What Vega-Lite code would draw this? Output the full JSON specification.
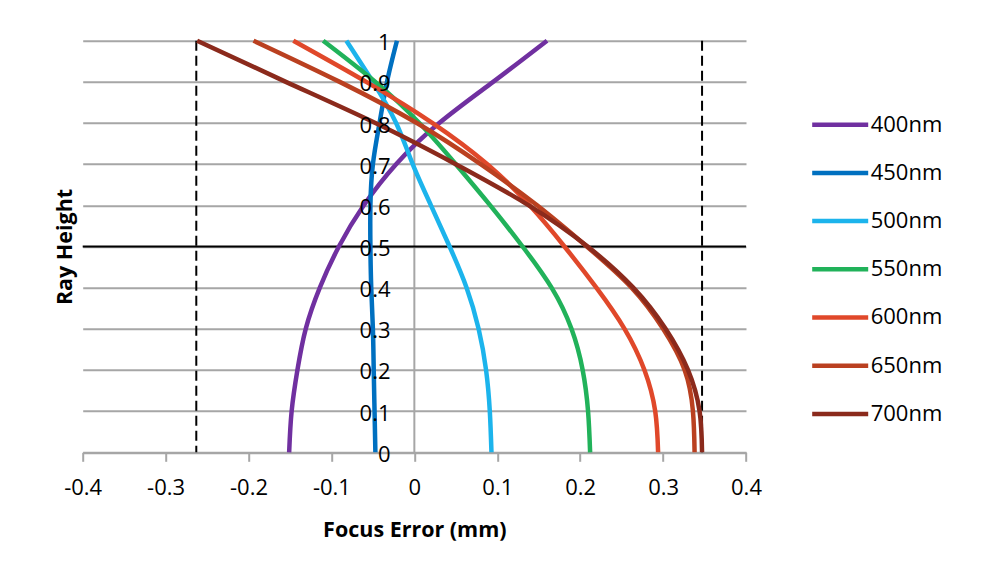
{
  "$schema": "https://vega.github.io/schema/vega-lite/v6.json",
  "width": 663.3,
  "height": 411.6,
  "autosize": {"type": "none"},
  "padding": {"left": 82.7, "top": 40.7, "right": 239, "bottom": 125},
  "background": "white",
  "config": {"view": {"stroke": null}, "font": "Open Sans"},
  "datasets": {
    "curves": [
      {"wl": "400nm", "y": 0, "x": -0.151}, {"wl": "400nm", "y": 0.1, "x": -0.148}, {"wl": "400nm", "y": 0.2, "x": -0.141}, {"wl": "400nm", "y": 0.3, "x": -0.131}, {"wl": "400nm", "y": 0.4, "x": -0.114}, {"wl": "400nm", "y": 0.5, "x": -0.091}, {"wl": "400nm", "y": 0.6, "x": -0.061}, {"wl": "400nm", "y": 0.7, "x": -0.022}, {"wl": "400nm", "y": 0.8, "x": 0.030}, {"wl": "400nm", "y": 0.9, "x": 0.095}, {"wl": "400nm", "y": 1.0, "x": 0.160},
      {"wl": "450nm", "y": 0, "x": -0.047}, {"wl": "450nm", "y": 0.1, "x": -0.048}, {"wl": "450nm", "y": 0.2, "x": -0.049}, {"wl": "450nm", "y": 0.3, "x": -0.050}, {"wl": "450nm", "y": 0.4, "x": -0.052}, {"wl": "450nm", "y": 0.5, "x": -0.053}, {"wl": "450nm", "y": 0.6, "x": -0.053}, {"wl": "450nm", "y": 0.7, "x": -0.050}, {"wl": "450nm", "y": 0.8, "x": -0.042}, {"wl": "450nm", "y": 0.9, "x": -0.033}, {"wl": "450nm", "y": 1.0, "x": -0.021},
      {"wl": "500nm", "y": 0, "x": 0.093}, {"wl": "500nm", "y": 0.1, "x": 0.091}, {"wl": "500nm", "y": 0.2, "x": 0.0865}, {"wl": "500nm", "y": 0.3, "x": 0.0775}, {"wl": "500nm", "y": 0.4, "x": 0.063}, {"wl": "500nm", "y": 0.5, "x": 0.0425}, {"wl": "500nm", "y": 0.6, "x": 0.020}, {"wl": "500nm", "y": 0.7, "x": -0.002}, {"wl": "500nm", "y": 0.8, "x": -0.022}, {"wl": "500nm", "y": 0.9, "x": -0.050}, {"wl": "500nm", "y": 1.0, "x": -0.082},
      {"wl": "550nm", "y": 0, "x": 0.212}, {"wl": "550nm", "y": 0.1, "x": 0.2095}, {"wl": "550nm", "y": 0.2, "x": 0.203}, {"wl": "550nm", "y": 0.3, "x": 0.1895}, {"wl": "550nm", "y": 0.4, "x": 0.1655}, {"wl": "550nm", "y": 0.5, "x": 0.1305}, {"wl": "550nm", "y": 0.6, "x": 0.0915}, {"wl": "550nm", "y": 0.7, "x": 0.050}, {"wl": "550nm", "y": 0.8, "x": 0.006}, {"wl": "550nm", "y": 0.9, "x": -0.047}, {"wl": "550nm", "y": 1.0, "x": -0.110},
      {"wl": "600nm", "y": 0, "x": 0.294}, {"wl": "600nm", "y": 0.1, "x": 0.2905}, {"wl": "600nm", "y": 0.2, "x": 0.2775}, {"wl": "600nm", "y": 0.3, "x": 0.2535}, {"wl": "600nm", "y": 0.4, "x": 0.2195}, {"wl": "600nm", "y": 0.5, "x": 0.181}, {"wl": "600nm", "y": 0.6, "x": 0.139}, {"wl": "600nm", "y": 0.7, "x": 0.088}, {"wl": "600nm", "y": 0.8, "x": 0.022}, {"wl": "600nm", "y": 0.9, "x": -0.058}, {"wl": "600nm", "y": 1.0, "x": -0.146},
      {"wl": "650nm", "y": 0, "x": 0.338}, {"wl": "650nm", "y": 0.1, "x": 0.336}, {"wl": "650nm", "y": 0.2, "x": 0.326}, {"wl": "650nm", "y": 0.3, "x": 0.300}, {"wl": "650nm", "y": 0.4, "x": 0.262}, {"wl": "650nm", "y": 0.5, "x": 0.208}, {"wl": "650nm", "y": 0.6, "x": 0.148}, {"wl": "650nm", "y": 0.7, "x": 0.080}, {"wl": "650nm", "y": 0.8, "x": 0.003}, {"wl": "650nm", "y": 0.9, "x": -0.090}, {"wl": "650nm", "y": 1.0, "x": -0.194},
      {"wl": "700nm", "y": 0, "x": 0.347}, {"wl": "700nm", "y": 0.1, "x": 0.344}, {"wl": "700nm", "y": 0.2, "x": 0.330}, {"wl": "700nm", "y": 0.3, "x": 0.303}, {"wl": "700nm", "y": 0.4, "x": 0.264}, {"wl": "700nm", "y": 0.5, "x": 0.209}, {"wl": "700nm", "y": 0.6, "x": 0.138}, {"wl": "700nm", "y": 0.7, "x": 0.050}, {"wl": "700nm", "y": 0.8, "x": -0.047}, {"wl": "700nm", "y": 0.9, "x": -0.155}, {"wl": "700nm", "y": 1.0, "x": -0.262}
    ]
  },
  "resolve": {"axis": {"y": "independent"}},
  "layer": [
    {
      "data": {"values": [{"v": 0}]},
      "mark": {"type": "rule", "color": "#a6a6a6", "strokeWidth": 2},
      "encoding": {"x": {"field": "v", "type": "quantitative"}}
    },
    {
      "data": {"values": [{"limit": -0.263}, {"limit": 0.347}]},
      "mark": {"type": "rule", "color": "black", "strokeWidth": 2, "strokeDash": [10, 5]},
      "encoding": {"x": {"field": "limit", "type": "quantitative"}}
    },
    {
      "data": {"values": [{"h": 0.5}]},
      "mark": {"type": "rule", "color": "black", "strokeWidth": 2},
      "encoding": {
        "y": {
          "field": "h", "type": "quantitative",
          "axis": {
            "orient": "left",
            "values": [0, 0.1, 0.2, 0.3, 0.4, 0.5, 0.6, 0.7, 0.8, 0.9, 1],
            "grid": true, "gridColor": "#a6a6a6", "gridWidth": 2,
            "labels": false, "domain": false, "ticks": false, "title": null, "zindex": 0
          }
        }
      }
    },
    {
      "data": {"name": "curves"},
      "mark": {"type": "line", "strokeWidth": 4.5, "interpolate": "natural"},
      "encoding": {
        "x": {
          "field": "x", "type": "quantitative",
          "scale": {"domain": [-0.4, 0.4], "nice": false, "zero": false},
          "axis": {
            "values": [-0.4, -0.3, -0.2, -0.1, 0, 0.1, 0.2, 0.3, 0.4],
            "labelExpr": "'' + datum.value",
            "grid": false,
            "domainColor": "#a6a6a6", "domainWidth": 2,
            "tickColor": "#a6a6a6", "tickWidth": 2, "tickSize": 9,
            "labelPadding": 16, "labelFontSize": 22, "labelColor": "black", "labelFlush": false,
            "title": "Focus Error (mm)", "titleFontSize": 21.5, "titleFontWeight": "bold", "titleColor": "black",
            "titleY": 78, "titleBaseline": "middle"
          }
        },
        "y": {
          "field": "y", "type": "quantitative",
          "scale": {"domain": [0, 1], "nice": false},
          "axis": {
            "orient": "left",
            "values": [0, 0.1, 0.2, 0.3, 0.4, 0.5, 0.6, 0.7, 0.8, 0.9, 1],
            "labelExpr": "'' + datum.value",
            "domain": false, "ticks": false, "tickSize": 0,
            "labelPadding": -307.3, "labelFontSize": 22, "labelColor": "black", "labelFlush": false,
            "labelBaseline": "middle", "labelOffset": 2,
            "grid": false,
            "title": "Ray Height", "titleFontSize": 21.5, "titleFontWeight": "bold", "titleColor": "black",
            "titleX": -17.7, "titleY": 205.8, "titleAngle": 270, "titleBaseline": "middle", "titleAlign": "center",
            "zindex": 1
          }
        },
        "color": {
          "field": "wl", "type": "nominal",
          "scale": {
            "domain": ["400nm", "450nm", "500nm", "550nm", "600nm", "650nm", "700nm"],
            "range": ["#7030A0", "#0070C0", "#1CB4EC", "#21B25A", "#E0482A", "#BA4020", "#8B2A1C"]
          },
          "legend": {
            "title": null, "orient": "none", "legendX": 727, "legendY": 72, "padding": 0,
            "symbolType": "stroke", "symbolSize": 3136, "symbolStrokeWidth": 4.5,
            "clipHeight": 24, "rowPadding": 24.2,
            "labelFontSize": 22, "labelColor": "black", "labelOffset": 0
          }
        },
        "order": {"field": "y", "type": "quantitative"}
      }
    }
  ]
}
